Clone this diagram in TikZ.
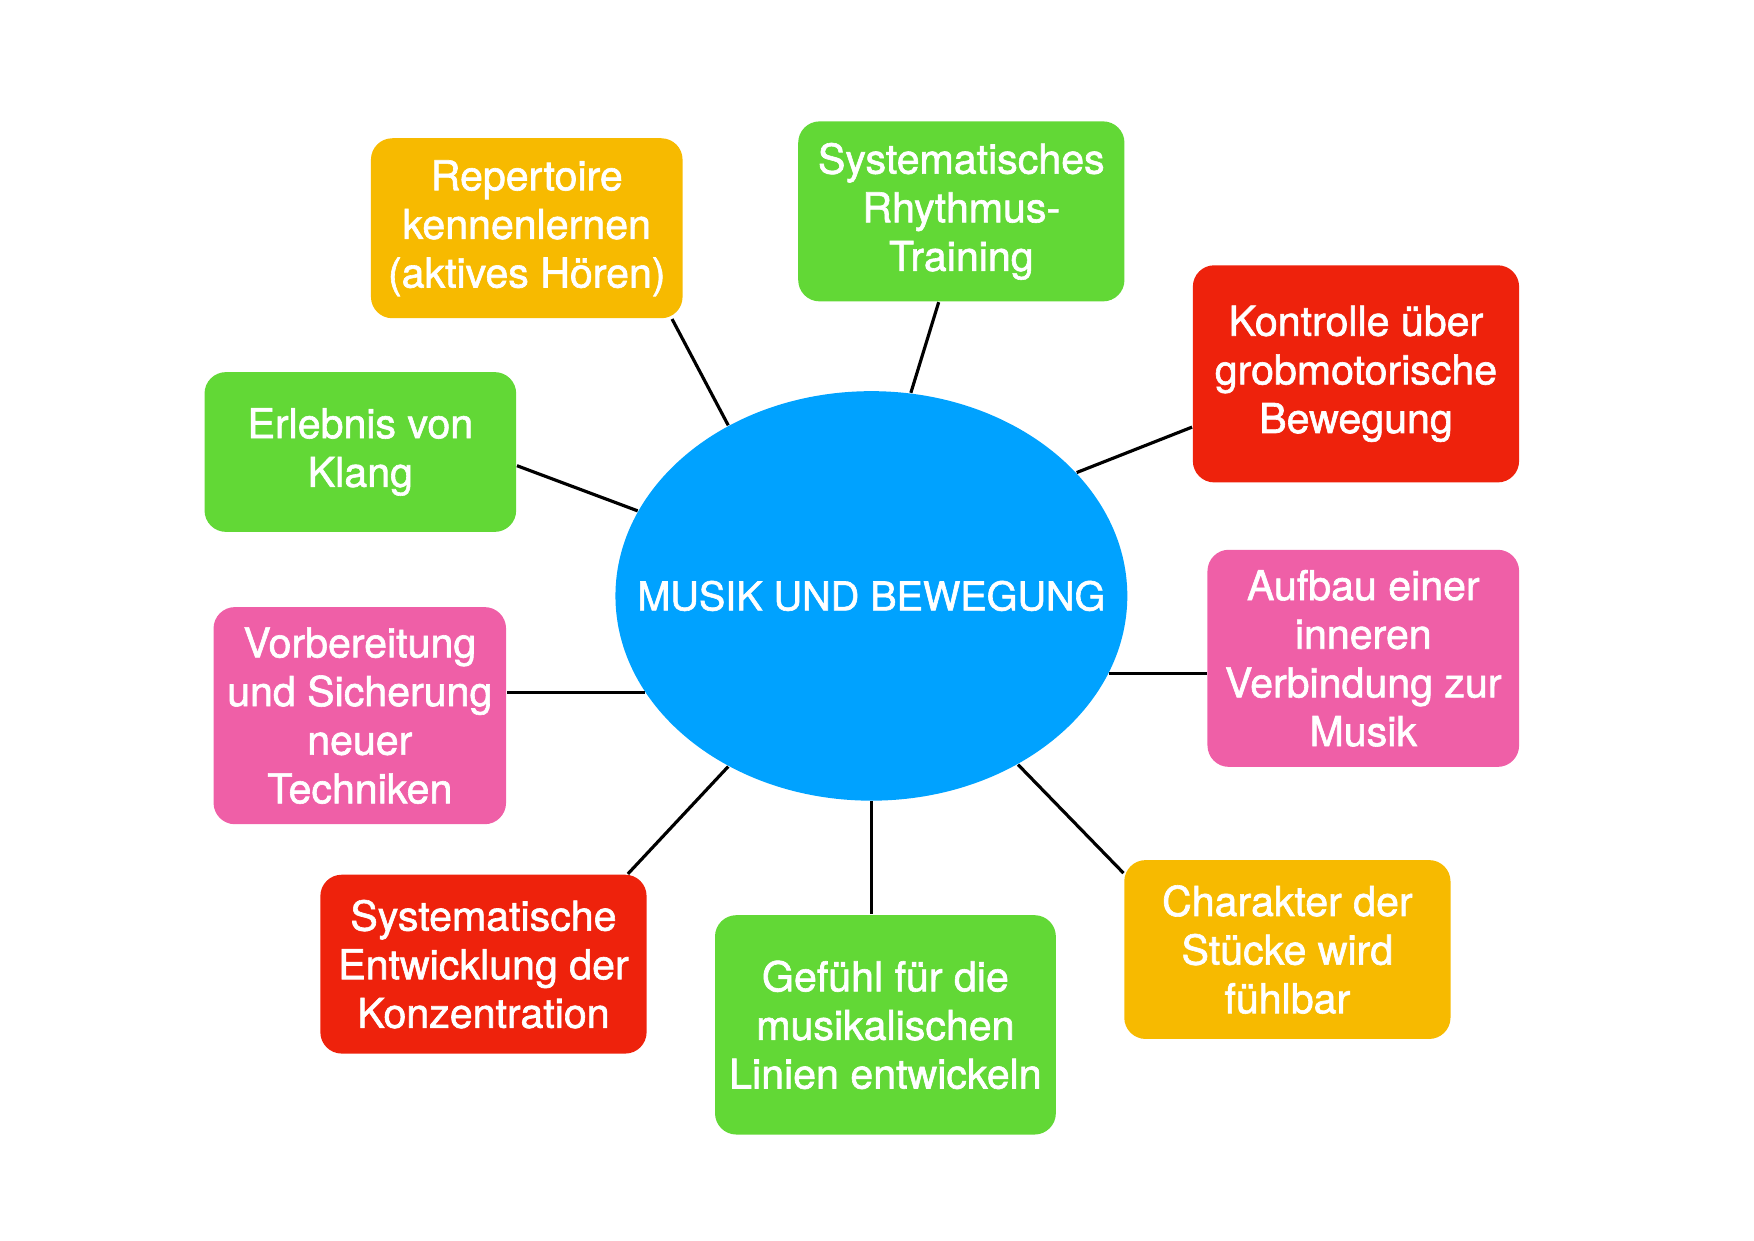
\documentclass[tikz,border=0pt]{standalone}
\usepackage{fontspec}
\setmainfont{TeX Gyre Heros}[FakeBold=1.5]
\usetikzlibrary{shapes.geometric}
\definecolor{hubblue}{HTML}{00A2FF}
\definecolor{boxgreen}{HTML}{62D836}
\definecolor{boxorange}{HTML}{F7BA00}
\definecolor{boxred}{HTML}{EE220C}
\definecolor{boxpink}{HTML}{EF5FA7}
\begin{document}
\begin{tikzpicture}[x=0.01cm, y=-0.01cm,
    hub/.style={ellipse, fill=hubblue, inner sep=0pt,
        minimum width=4.55cm, minimum height=3.64cm},
    topic/.style={rounded corners=0.19cm, text=white, align=center, inner sep=0pt,
        font=\fontsize{10.4}{12.3}\selectfont},
    link/.style={black, line width=0.8pt}]
    \useasboundingbox (0,0) rectangle (1560,1103);

    % The blue ellipse in the middle, text put in as a label so it does not stretch it
    \node[hub, label={[text=white, font=\fontsize{10}{12}\selectfont]center:{MUSIK UND BEWEGUNG}}] (hub) at (775,530) {};

    % Boxes around it, going clockwise from top left
    \node[topic, fill=boxorange, minimum width=2.77cm, minimum height=1.60cm] (rep) at (468.5,203)
        {Repertoire\\kennenlernen\\(aktives Hören)};
    \node[topic, fill=boxgreen, minimum width=2.90cm, minimum height=1.60cm] (rhy) at (855,188)
        {Systematisches\\Rhythmus-\\Training};
    \node[topic, fill=boxred, minimum width=2.90cm, minimum height=1.93cm] (kon) at (1206,332.5)
        {Kontrolle über\\grobmotorische\\Bewegung};
    \node[topic, fill=boxpink, minimum width=2.77cm, minimum height=1.93cm] (auf) at (1212.5,585.5)
        {Aufbau einer\\inneren\\Verbindung zur\\Musik};
    \node[topic, fill=boxorange, minimum width=2.90cm, minimum height=1.59cm] (cha) at (1145,844.5)
        {Charakter der\\Stücke wird\\fühlbar};
    \node[topic, fill=boxgreen, minimum width=3.03cm, minimum height=1.95cm] (gef) at (787.5,911.5)
        {Gefühl für die\\musikalischen\\Linien entwickeln};
    \node[topic, fill=boxred, minimum width=2.90cm, minimum height=1.59cm] (kkz) at (430,857.5)
        {Systematische\\Entwicklung der\\Konzentration};
    \node[topic, fill=boxpink, minimum width=2.60cm, minimum height=1.93cm] (vor) at (320,636.5)
        {Vorbereitung\\und Sicherung\\neuer\\Techniken};
    \node[topic, fill=boxgreen, minimum width=2.77cm, minimum height=1.42cm] (erl) at (320.5,402)
        {Erlebnis von\\Klang};

    % Spokes from the boxes to the ellipse
    \draw[link] (rep.-32.6) -- (hub.130.4);
    \draw[link] (rhy.-104.5) -- (hub.79);
    \draw[link] (kon.198.3) -- (hub.31.8);
    \draw[link] (hub.-18) -- (hub.-18 -| auf.west); % straight across
    \draw[link] (cha.155.2) -- (hub.-49.6);
    \draw[link] (hub.south) -- (hub.south |- gef.north);
    \draw[link] (kkz.32.5) -- (hub.230.7);
    \draw[link] (hub.203.5) -- (hub.203.5 -| vor.east);
    \draw[link] (erl.-5.4) -- (hub.160.7);

\end{tikzpicture}
\end{document}
